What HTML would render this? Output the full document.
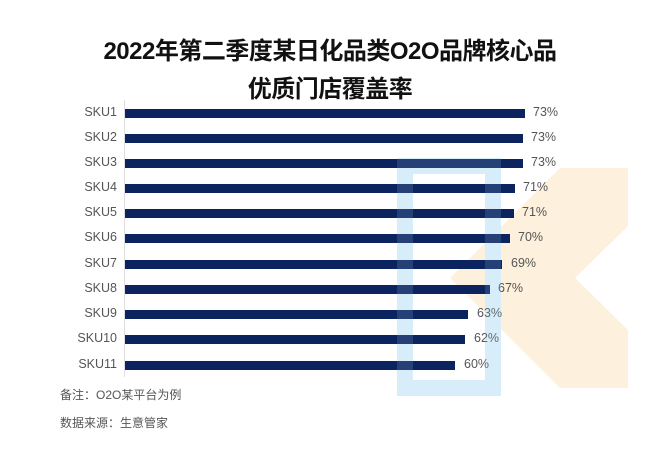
<!DOCTYPE html><html><head><meta charset="utf-8"><style>
body{margin:0;width:660px;height:458px;background:#fff;overflow:hidden;font-family:"Liberation Sans","Noto Sans CJK SC",sans-serif;position:relative}
.t{position:absolute;left:0;width:660px;text-align:center;font-weight:bold;font-size:24px;color:#111;letter-spacing:-0.5px}
.l{position:absolute;font-size:12.5px;color:#555;width:55px;text-align:right;left:62px}
.b{position:absolute;left:125px;height:9px;background:#0b2460}
.v{position:absolute;font-size:12.5px;color:#555}
.f{position:absolute;left:60px;font-size:12px;color:#555}
</style></head><body>
<svg style="position:absolute;left:0;top:0" width="660" height="458">
<polygon points="628,168 560,168 450,278 560,388 628,388 628,330 575,278 628,226" fill="#fdf0dc"/>
<rect x="405" y="166" width="88" height="222" fill="none" stroke="#dcf0fb" stroke-width="16"/>
<line x1="124.5" y1="100" x2="124.5" y2="377" stroke="#ddd"/>
</svg>
<div class="t" style="top:31px">2022年第二季度某日化品类O2O品牌核心品</div>
<div class="t" style="top:69px">优质门店覆盖率</div>
<div class="l" style="top:105px">SKU1</div><div class="b" style="top:109px;width:400px"></div><div class="v" style="left:533px;top:105px">73%</div>
<div class="l" style="top:130px">SKU2</div><div class="b" style="top:134px;width:398px"></div><div class="v" style="left:531px;top:130px">73%</div>
<div class="l" style="top:155px">SKU3</div><div class="b" style="top:159px;width:398px"></div><div class="v" style="left:531px;top:155px">73%</div>
<div class="l" style="top:180px">SKU4</div><div class="b" style="top:184px;width:390px"></div><div class="v" style="left:523px;top:180px">71%</div>
<div class="l" style="top:205px">SKU5</div><div class="b" style="top:209px;width:389px"></div><div class="v" style="left:522px;top:205px">71%</div>
<div class="l" style="top:230px">SKU6</div><div class="b" style="top:234px;width:385px"></div><div class="v" style="left:518px;top:230px">70%</div>
<div class="l" style="top:256px">SKU7</div><div class="b" style="top:260px;width:377px"></div><div class="v" style="left:511px;top:256px">69%</div>
<div class="l" style="top:281px">SKU8</div><div class="b" style="top:285px;width:365px"></div><div class="v" style="left:498px;top:281px">67%</div>
<div class="l" style="top:306px">SKU9</div><div class="b" style="top:310px;width:343px"></div><div class="v" style="left:477px;top:306px">63%</div>
<div class="l" style="top:331px">SKU10</div><div class="b" style="top:335px;width:340px"></div><div class="v" style="left:474px;top:331px">62%</div>
<div class="l" style="top:357px">SKU11</div><div class="b" style="top:361px;width:330px"></div><div class="v" style="left:464px;top:357px">60%</div>
<div class="f" style="top:386px">备注：O2O某平台为例</div>
<div class="f" style="top:414px">数据来源：生意管家</div>
<svg style="position:absolute;left:0;top:0" width="660" height="458">
<rect x="405" y="166" width="88" height="222" fill="none" stroke="#bfe2f6" stroke-width="16" opacity="0.15"/>
</svg>
</body></html>
